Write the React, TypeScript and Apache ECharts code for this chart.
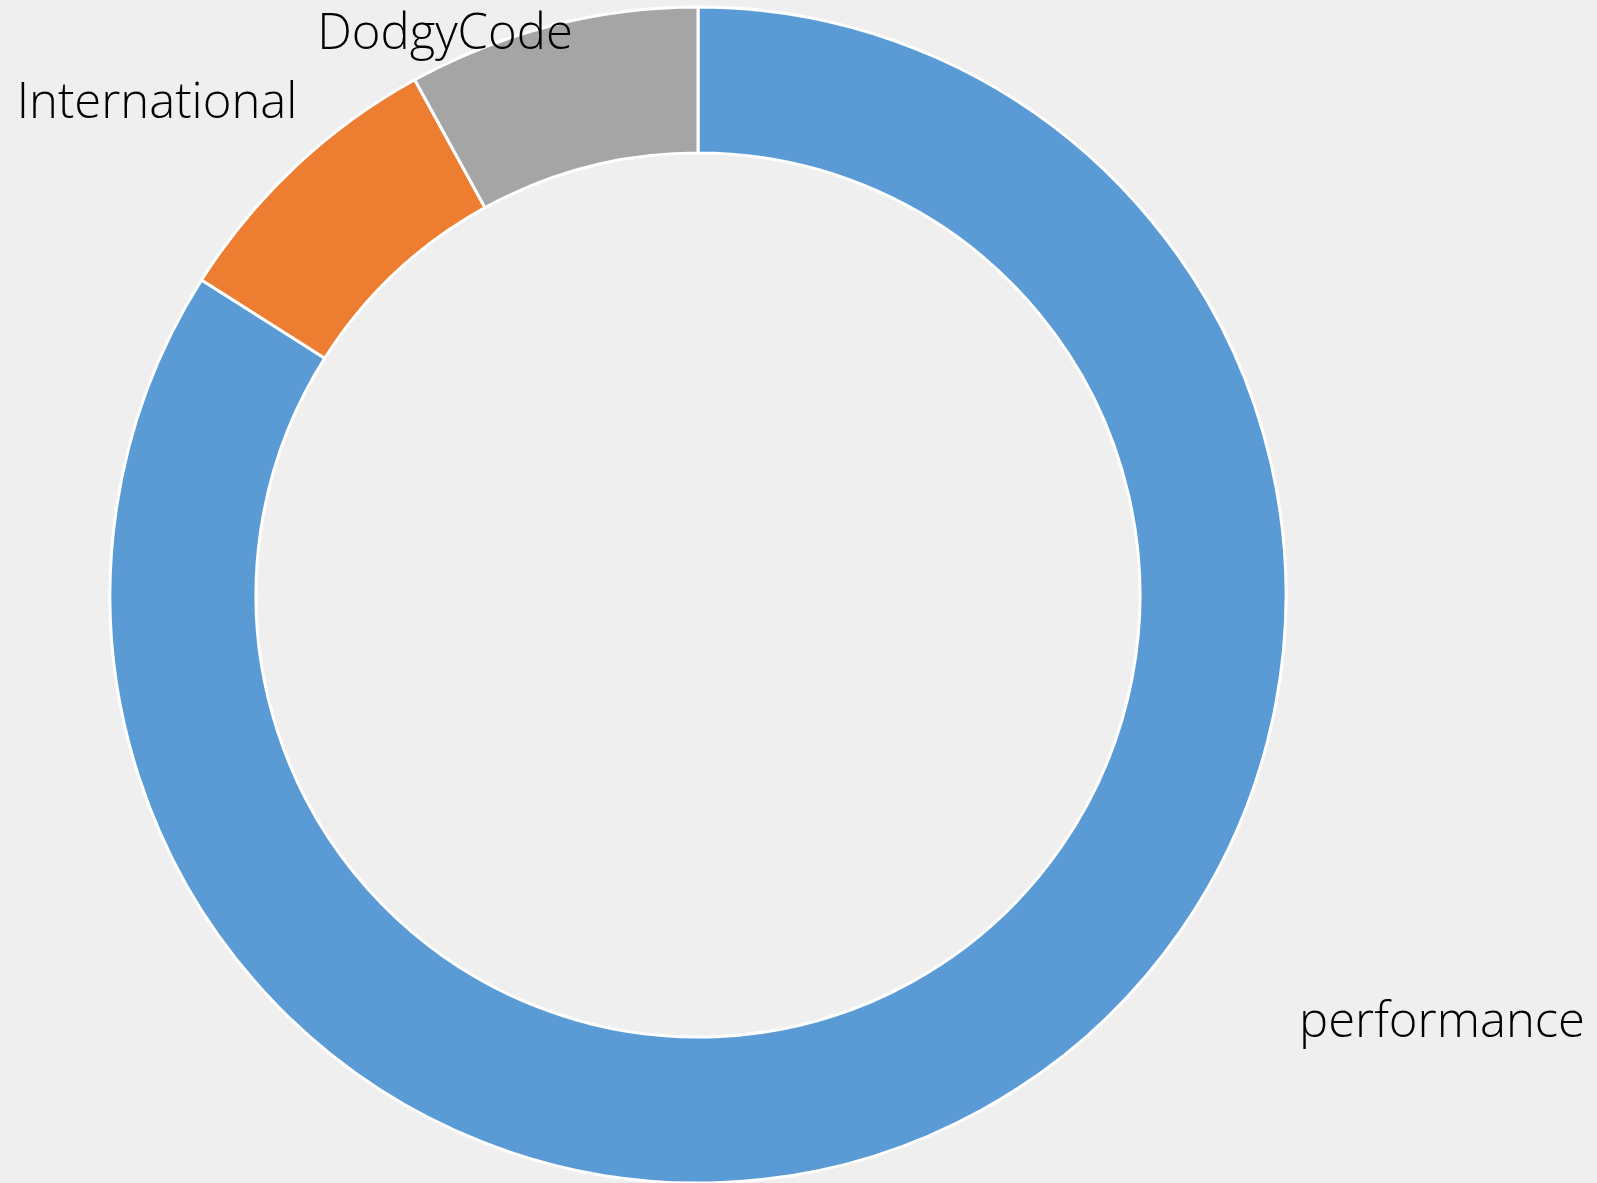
import React, { useEffect, useRef } from "react";
import * as echarts from "echarts";

const categories = ["performance", "International", "DodgyCode"];
const values = [21, 2, 2];
const colors = ["#5b9bd5", "#ed7d31", "#a5a5a5"];
// label anchor (centre) positions in px
const labelPos = [
  [1442, 1018],
  [157, 99],
  [445, 30],
];

export default function App() {
  const ref = useRef<HTMLDivElement>(null);
  useEffect(() => {
    document.body.style.margin = "0";
    document.body.style.background = "#efefef";
    const chart = echarts.init(ref.current!, null, { renderer: "svg" });
    chart.setOption({
      animation: false,
      backgroundColor: "#efefef",
      series: [
        {
          type: "pie",
          center: [698, 595],
          radius: [442, 588],
          startAngle: 90,
          clockwise: true,
          avoidLabelOverlap: false,
          data: categories.map((c, i) => ({
            name: c,
            value: values[i],
            itemStyle: { color: colors[i] },
          })),
          itemStyle: { borderColor: "#ffffff", borderWidth: 3 },
          label: {
            show: true,
            position: "outside",
            formatter: "{b}",
            fontFamily: "'Open Sans', sans-serif",
            fontWeight: 300,
            fontSize: 49,
            lineHeight: 52,
            color: "#000000",
          },
          labelLine: { show: false },
          labelLayout: (p: any) => ({
            x: labelPos[p.dataIndex][0],
            y: labelPos[p.dataIndex][1],
            align: "center",
            verticalAlign: "middle",
          }),
          emphasis: { disabled: true },
        },
      ],
    });
    return () => chart.dispose();
  }, []);
  return <div ref={ref} style={{ width: 1597, height: 1183 }} />;
}
